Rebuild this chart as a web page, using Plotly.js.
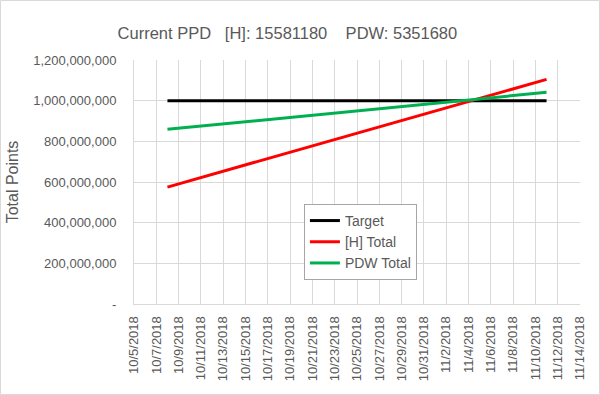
<!DOCTYPE html>
<html>
<head>
<meta charset="utf-8">
<script src="https://cdn.plot.ly/plotly-3.0.1.min.js"></script>
<style>
  html, body { margin: 0; padding: 0; background: #fff; }
  #chart { width: 600px; height: 395px; }
</style>
</head>
<body>
<div id="chart"></div>
<script>
// ---- data ----
const dates = [
  "2018-10-08","2018-10-09","2018-10-10","2018-10-11","2018-10-12","2018-10-13","2018-10-14",
  "2018-10-15","2018-10-16","2018-10-17","2018-10-18","2018-10-19","2018-10-20","2018-10-21",
  "2018-10-22","2018-10-23","2018-10-24","2018-10-25","2018-10-26","2018-10-27","2018-10-28",
  "2018-10-29","2018-10-30","2018-10-31","2018-11-01","2018-11-02","2018-11-03","2018-11-04",
  "2018-11-05","2018-11-06","2018-11-07","2018-11-08","2018-11-09","2018-11-10","2018-11-11"
];
const target = [
  1000e6,1000e6,1000e6,1000e6,1000e6,1000e6,1000e6,
  1000e6,1000e6,1000e6,1000e6,1000e6,1000e6,1000e6,
  1000e6,1000e6,1000e6,1000e6,1000e6,1000e6,1000e6,
  1000e6,1000e6,1000e6,1000e6,1000e6,1000e6,1000e6,
  1000e6,1000e6,1000e6,1000e6,1000e6,1000e6,1000e6
];
const hTotal = [
  575.0e6, 590.6e6, 606.2e6, 621.7e6, 637.3e6, 652.9e6, 668.5e6,
  684.1e6, 699.6e6, 715.2e6, 730.8e6, 746.4e6, 762.0e6, 777.5e6,
  793.1e6, 808.7e6, 824.3e6, 839.9e6, 855.4e6, 871.0e6, 886.6e6,
  902.2e6, 917.8e6, 933.3e6, 948.9e6, 964.5e6, 980.1e6, 995.7e6,
  1011.2e6, 1026.8e6, 1042.4e6, 1058.0e6, 1073.6e6, 1089.1e6, 1104.7e6
];
const pdwTotal = [
  859.0e6, 864.4e6, 869.7e6, 875.1e6, 880.4e6, 885.8e6, 891.1e6,
  896.5e6, 901.8e6, 907.2e6, 912.5e6, 917.9e6, 923.2e6, 928.6e6,
  933.9e6, 939.3e6, 944.6e6, 950.0e6, 955.3e6, 960.7e6, 966.0e6,
  971.4e6, 976.7e6, 982.1e6, 987.4e6, 992.8e6, 998.1e6, 1003.5e6,
  1008.8e6, 1014.2e6, 1019.5e6, 1024.9e6, 1030.2e6, 1035.6e6, 1040.9e6
];
const seriesNames = ["Target", "[H] Total", "PDW Total"];
const yTickVals = [0, 200e6, 400e6, 600e6, 800e6, 1000e6, 1200e6];
const yTickText = ["-", "200,000,000", "400,000,000", "600,000,000", "800,000,000", "1,000,000,000", "1,200,000,000"];
const titleText = "Current PPD\u00A0\u00A0\u00A0[H]: 15581180\u00A0\u00A0\u00A0\u00A0PDW: 5351680";
const yTitle = "Total Points";

const FONT = "'Liberation Sans', Arial, sans-serif";
const GRAY = "#595959";
const GRID = "#d9d9d9";

const traces = [
  { x: dates, y: target,   name: seriesNames[0], type: "scatter", mode: "lines", line: { color: "#000000", width: 3 } },
  { x: dates, y: hTotal,   name: seriesNames[1], type: "scatter", mode: "lines", line: { color: "#ff0000", width: 3 } },
  { x: dates, y: pdwTotal, name: seriesNames[2], type: "scatter", mode: "lines", line: { color: "#00b050", width: 3 } }
];

const ML = 134, MR = 20, MT = 60, MB = 91, W = 600, H = 395;
const PW = W - ML - MR, PH = H - MT - MB;

const layout = {
  width: W, height: H,
  paper_bgcolor: "#ffffff", plot_bgcolor: "#ffffff",
  margin: { l: ML, r: MR, t: MT, b: MB, pad: 0 },
  font: { family: FONT, color: GRAY, size: 13 },
  title: {
    text: titleText,
    font: { family: FONT, size: 16.5, color: GRAY },
    x: 0.479, xref: "container", xanchor: "center",
    y: 0.915, yref: "container", yanchor: "middle"
  },
  xaxis: {
    type: "date",
    range: ["2018-10-05", "2018-11-14"],
    tick0: "2018-10-05", dtick: 2 * 86400000,
    tickformat: "%-m/%-d/%Y",
    tickangle: -90,
    tickfont: { family: FONT, size: 13, color: GRAY },
    ticks: "outside", ticklen: 6, tickcolor: "rgba(0,0,0,0)",
    showgrid: true, gridcolor: GRID, gridwidth: 1,
    showline: true, linecolor: GRID, linewidth: 1,
    zeroline: false, fixedrange: true
  },
  yaxis: {
    range: [0, 1200e6],
    tickmode: "array", tickvals: yTickVals, ticktext: yTickText,
    tickfont: { family: FONT, size: 13, color: GRAY },
    ticks: "outside", ticklen: 14, tickcolor: "rgba(0,0,0,0)",
    showgrid: true, gridcolor: GRID, gridwidth: 1,
    showline: true, linecolor: GRID, linewidth: 1,
    zeroline: false, fixedrange: true,
    title: { text: yTitle, font: { family: FONT, size: 16, color: GRAY }, standoff: 10 }
  },
  shapes: [{
    type: "rect", xref: "paper", yref: "paper", layer: "above",
    x0: (0.5 - ML) / PW, x1: (W - 0.5 - ML) / PW,
    y0: (MT + PH - (H - 0.5)) / PH, y1: (MT + PH - 0.5) / PH,
    line: { color: GRID, width: 1 }, fillcolor: "rgba(0,0,0,0)"
  }],
  showlegend: true,
  legend: {
    x: 0.381, y: 0.41, xanchor: "left", yanchor: "top",
    bgcolor: "#ffffff", bordercolor: "#a6a6a6", borderwidth: 1,
    font: { family: FONT, size: 14, color: GRAY },
    tracegroupgap: 0
  }
};

Plotly.newPlot("chart", traces, layout, { displayModeBar: false, staticPlot: true });
</script>
</body>
</html>
